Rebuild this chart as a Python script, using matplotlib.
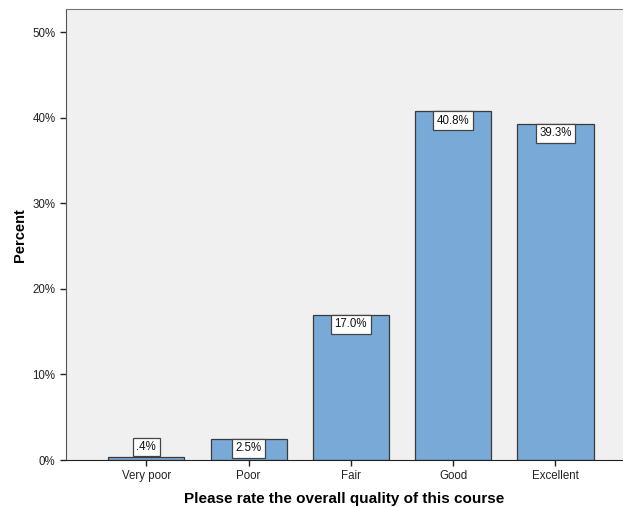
import numpy as np
import matplotlib.pyplot as plt
from matplotlib.ticker import PercentFormatter

plt.rcParams['font.family'] = ['Liberation Sans', 'DejaVu Sans']

# categories and percent values
categories = ['Very poor', 'Poor', 'Fair', 'Good', 'Excellent']
percents = [0.4, 2.5, 17.0, 40.8, 39.3]
bar_labels = ['.4%', '2.5%', '17.0%', '40.8%', '39.3%']

fig = plt.figure(figsize=(6.23, 5.07), dpi=100)
ax = fig.add_axes([0.106, 0.0927, 0.894, 0.889])
ax.set_facecolor('#f0f0f0')

x = np.arange(len(categories))
ax.bar(x, percents, width=0.745, color='#79a9d6', edgecolor='#3a3a3a', linewidth=0.9)

# value labels in white boxes at the top of each bar
for xi, v, lab in zip(x, percents, bar_labels):
    if v < 2:
        va, dy = 'bottom', 2.6
    else:
        va, dy = 'top', -2.6
    ax.annotate(lab, (xi, v), xytext=(0, dy), textcoords='offset points',
                ha='center', va=va, fontsize=8.3, color='#111111',
                bbox=dict(boxstyle='square,pad=0.3', facecolor='white',
                          edgecolor='#444444', linewidth=0.9))

ax.set_xlim(-0.785, 4.66)
ax.set_ylim(0, 52.7)
ax.set_yticks([0, 10, 20, 30, 40, 50])
ax.yaxis.set_major_formatter(PercentFormatter(decimals=0))
ax.set_xticks(x)
ax.set_xticklabels(categories)
ax.tick_params(axis='both', labelsize=8.3, colors='#222222', length=4, width=1, direction='out')

ax.spines['right'].set_visible(False)
ax.spines['top'].set_color('#777777')
ax.spines['left'].set_color('#555555')
ax.spines['bottom'].set_color('#222222')

ax.set_ylabel('Percent', fontsize=10.5, fontweight='bold', labelpad=4)
ax.set_xlabel('Please rate the overall quality of this course', fontsize=11, fontweight='bold', labelpad=7)

fig.savefig('out.png', dpi=100)
plt.close(fig)
